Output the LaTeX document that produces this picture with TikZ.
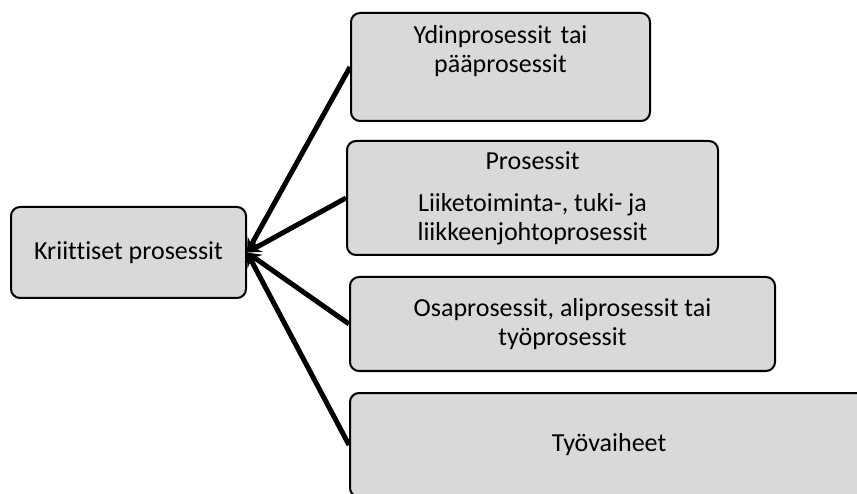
\documentclass[tikz,border=0pt]{standalone}
\usepackage{fontspec}
\setmainfont{Carlito}[Ligatures=NoCommon]
\definecolor{boxgray}{HTML}{D9D9D9}

\begin{document}
\begin{tikzpicture}[x=1pt, y=-1pt, >=stealth,
	every box/.style={draw, line width=2pt, rounded corners=9pt, fill=boxgray,
		align=center, inner sep=0pt, font=\fontsize{26}{29}\selectfont}]
	\useasboundingbox (0,0) rectangle (857,494);
	\clip (0,0) rectangle (857,494);
	
	\node [every box/.try, minimum width=235, minimum height=91] (kriittiset) at (128.5,252.5) {Kriittiset prosessit};
	
	\node [every box/.try, anchor=north, text width=299, text height=31, text depth=77] (ydin) at (500.5,12) {Ydinprosessit tai\\pääprosessit};
	\node [every box/.try, minimum width=371, minimum height=114] (prosessit) at (532.5,198) {Prosessit\\[13pt]Liiketoiminta-, tuki- ja\\liikkeenjohtoprosessit};
	\node [every box/.try, minimum width=425, minimum height=94] (osa) at (562.5,324) {Osaprosessit, aliprosessit tai\\työprosessit};
	\node [every box/.try, minimum width=518, minimum height=104] (tyovaiheet) at (609,445) {Työvaiheet};
	
	\foreach \b in {ydin, prosessit, osa, tyovaiheet}
	\draw [->, line width=5pt] (\b.west) -- (kriittiset.east);
\end{tikzpicture}
\end{document}
